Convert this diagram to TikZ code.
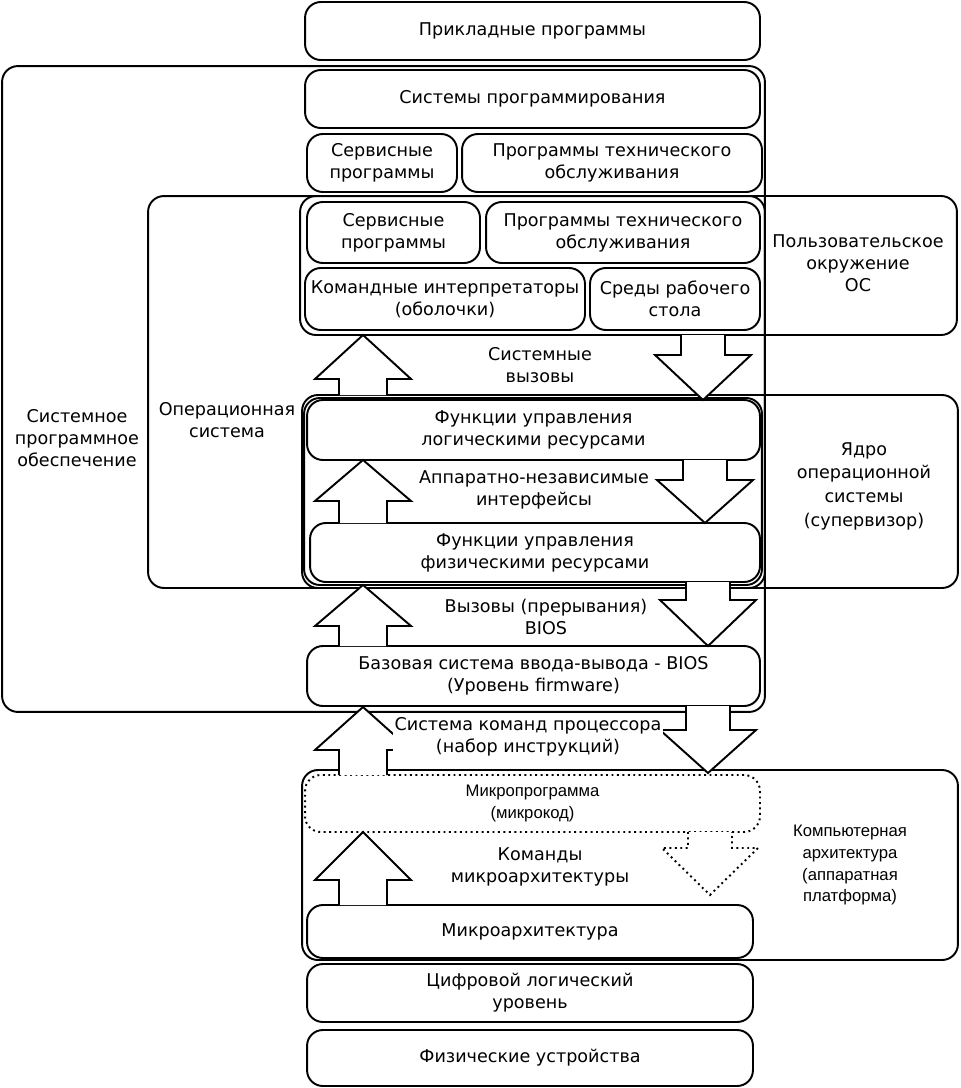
\documentclass[tikz,border=0pt]{standalone}
\usepackage{fontspec}
\setmainfont{DejaVu Sans}
\newfontfamily\arial{Liberation Sans}
\usepackage{tikz}

% block arrows: centre x, start y, tip y, head y
\newcommand\upblock[4]{\draw[blockarrow] (#1-24,#2) -- (#1-24,#4) -- (#1-48,#4) -- (#1,#3) -- (#1+48,#4) -- (#1+24,#4) -- (#1+24,#2);}
\newcommand\downblock[5][]{\draw[blockarrow,#1] (#2-22,#3) -- (#2-22,#5) -- (#2-48,#5) -- (#2,#4) -- (#2+48,#5) -- (#2+22,#5) -- (#2+22,#3);}

\begin{document}
\begin{tikzpicture}[x=0.02cm, y=-0.02cm, font=\fontsize{10}{12.5}\selectfont,
    frame/.style={draw, rounded corners=9pt, line width=1.1pt},
    box/.style={draw, rounded corners=9pt, line width=1.1pt, fill=white, align=center, inner sep=2pt},
    label/.style={align=center, inner sep=1pt},
    blockarrow/.style={draw, fill=white, line width=1.1pt, line join=miter}]
    \useasboundingbox (0,0) rectangle (960,1088);

    % frames
    \node[frame, minimum width=15.26cm, minimum height=12.92cm] (spo) at (383.5,389) {};
    \node[frame, minimum width=12.34cm, minimum height=7.84cm] (os) at (456.5,392) {};
    \node[frame, minimum width=13.14cm, minimum height=2.78cm] (userenv) at (628.5,265.5) {};
    \node[frame, minimum width=13.12cm, minimum height=3.86cm] (kernel) at (630,491.5) {};
    \node[frame, minimum width=9.16cm, minimum height=3.74cm] (kcol) at (533,491.5) {};
    \node[frame, minimum width=13.12cm, minimum height=3.8cm] (arch) at (630,865) {};

    % boxes
    \node[box, minimum width=9.1cm, minimum height=1.16cm] (apps) at (532.5,31) {Прикладные программы};
    \node[box, minimum width=9.1cm, minimum height=1.16cm] (sysprog) at (532.5,99) {Системы программирования};
    \node[box, minimum width=3.0cm, minimum height=1.16cm] (serviceA) at (382,163) {Сервисные\\программы};
    \node[box, minimum width=6.0cm, minimum height=1.16cm] (maintA) at (612,163) {Программы технического\\обслуживания};
    \node[box, minimum width=3.46cm, minimum height=1.22cm] (serviceB) at (393.5,232.5) {Сервисные\\программы};
    \node[box, minimum width=5.48cm, minimum height=1.22cm] (maintB) at (623,232.5) {Программы технического\\обслуживания};
    \node[box, minimum width=5.6cm, minimum height=1.24cm] (shell) at (445,299) {Командные интерпретаторы\\(оболочки)};
    \node[box, minimum width=3.4cm, minimum height=1.24cm] (desktop) at (675,299) {Среды рабочего\\стола};
    \node[box, minimum width=9.06cm, minimum height=1.2cm] (logical) at (533.5,430) {Функции управления\\логическими ресурсами};
    \node[box, minimum width=9.0cm, minimum height=1.18cm] (physical) at (535,552.5) {Функции управления\\физическими ресурсами};
    \node[box, minimum width=9.06cm, minimum height=1.2cm] (bios) at (533.5,676) {Базовая система ввода-вывода - BIOS\\(Уровень firmware)};
    \node[box, dotted, minimum width=9.1cm, minimum height=1.14cm, font=\arial\fontsize{9.5}{12.5}\selectfont] (microcode) at (532.5,803.5) {Микропрограмма\\(микрокод)};
    \node[box, minimum width=8.92cm, minimum height=1.06cm] (microarch) at (530,931.5) {Микроархитектура};
    \node[box, minimum width=8.92cm, minimum height=1.16cm] (digital) at (530,993) {Цифровой логический\\уровень};
    \node[box, minimum width=8.92cm, minimum height=1.12cm] (devices) at (530,1058) {Физические устройства};

    % block arrows
    \upblock{363}{395}{335}{379}
    \upblock{363}{523}{460}{501}
    \upblock{363}{646}{585}{626}
    \upblock{363}{775}{707}{750}
    \upblock{363}{905}{832}{880}
    \downblock{703}{335}{400}{355}
    \downblock{705}{460}{523}{480}
    \downblock{708}{582}{646}{600}
    \downblock{708}{706}{773}{730}
    \downblock[dotted]{710}{832}{895}{848}

    % labels
    \node[label] (lsyscall) at (540,365) {Системные\\вызовы};
    \node[label] (lhwi) at (534,490) {Аппаратно-независимые\\интерфейсы};
    \node[label] (lbioscall) at (546,617) {Вызовы (прерывания)\\BIOS};
    \node[label, fill=white] (lisa) at (528,737) {Система команд процессора\\(набор инструкций)};
    \node[label] (lmicro) at (540,867) {Команды\\микроархитектуры};
    \node[label] (lspo) at (77,438) {Системное\\программное\\обеспечение};
    \node[label] (los) at (227,420) {Операционная\\система};
    \node[label] (luser) at (858,263) {Пользовательское\\окружение\\ОС};
    \node[label, font=\fontsize{10}{13.5}\selectfont] (lkernel) at (864,486) {Ядро\\операционной\\системы\\(супервизор)};
    \node[label, font=\arial\fontsize{9.5}{12.5}\selectfont] (larch) at (850,865) {Компьютерная\\архитектура\\(аппаратная\\платформа)};
\end{tikzpicture}
\end{document}
